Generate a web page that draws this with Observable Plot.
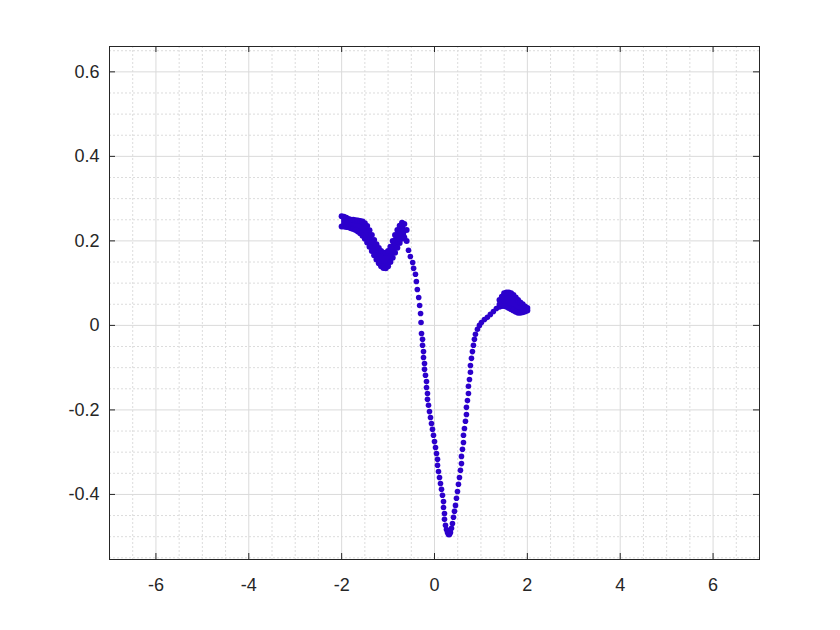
<!DOCTYPE html>
<html><head><meta charset="utf-8">
<script src="https://cdn.jsdelivr.net/npm/d3@7"></script>
<script src="https://cdn.jsdelivr.net/npm/@observablehq/plot@0.6"></script>
<style>body{margin:0;background:#fff;} svg{display:block;}</style>
</head><body><div id="chart"></div>
<script>
// ---- axis ticks ----
const xTicks = [-6, -4, -2, 0, 2, 4, 6];
const xTickLabels = ["-6", "-4", "-2", "0", "2", "4", "6"];
const yTicks = [-0.4, -0.2, 0, 0.2, 0.4, 0.6];
const yTickLabels = ["-0.4", "-0.2", "0", "0.2", "0.4", "0.6"];
const xMinor = [-6.5, -5.5, -5, -4.5, -3.5, -3, -2.5, -1.5, -1, -0.5, 0.5, 1, 1.5, 2.5, 3, 3.5, 4.5, 5, 5.5, 6.5];
const yMinor = [-0.55, -0.5, -0.45, -0.35, -0.3, -0.25, -0.15, -0.1, -0.05, 0.05, 0.1, 0.15, 0.25, 0.3, 0.35, 0.45, 0.5, 0.55, 0.65];

// ---- dense left cloud (upper / lower edge of the point band) ----
const leftBandX = [-2.00, -1.95, -1.90, -1.85, -1.80, -1.75, -1.70, -1.65, -1.60, -1.55, -1.50, -1.45, -1.40, -1.35, -1.30, -1.25, -1.20, -1.15, -1.10, -1.05, -1.00, -0.95, -0.90, -0.85, -0.80, -0.75, -0.70, -0.65, -0.60];
const leftBandTop = [0.258, 0.257, 0.255, 0.252, 0.250, 0.250, 0.249, 0.248, 0.247, 0.246, 0.242, 0.235, 0.225, 0.214, 0.202, 0.192, 0.183, 0.176, 0.172, 0.172, 0.176, 0.186, 0.200, 0.214, 0.226, 0.236, 0.243, 0.240, 0.226];
const leftBandBottom = [0.234, 0.234, 0.233, 0.232, 0.230, 0.228, 0.226, 0.222, 0.218, 0.212, 0.205, 0.196, 0.186, 0.176, 0.166, 0.156, 0.147, 0.140, 0.136, 0.135, 0.140, 0.150, 0.160, 0.172, 0.184, 0.195, 0.205, 0.208, 0.200];

// ---- single-file points: descent, trough, rise ----
const curveX = [-0.56, -0.52, -0.47, -0.45, -0.41, -0.39, -0.37, -0.34, -0.32, -0.30, -0.29,
  -0.280, -0.258, -0.258, -0.237, -0.237, -0.215, -0.215, -0.194, -0.172, -0.172, -0.151, -0.151, -0.129, -0.108, -0.086, -0.065, -0.043, -0.022, 0.000, 0.022, 0.043, 0.065, 0.065, 0.086, 0.108, 0.129, 0.151, 0.172, 0.194, 0.194, 0.215, 0.215, 0.237, 0.258, 0.280, 0.301, 0.323, 0.344,
  0.366, 0.387, 0.409, 0.430, 0.452, 0.473, 0.495, 0.516, 0.538, 0.559, 0.581, 0.581, 0.602, 0.624, 0.624, 0.645, 0.667, 0.688, 0.688, 0.710, 0.731, 0.731, 0.753, 0.774, 0.774, 0.796, 0.817, 0.839, 0.860, 0.882, 0.925, 0.968, 1.011, 1.075, 1.140, 1.204, 1.269, 1.333, 1.398];
const curveY = [0.178, 0.163, 0.149, 0.135, 0.121, 0.104, 0.085, 0.066, 0.047, 0.028, 0.007,
  -0.019, -0.033, -0.047, -0.062, -0.076, -0.090, -0.104, -0.118, -0.133, -0.147, -0.161, -0.175, -0.189, -0.204, -0.218, -0.232, -0.246, -0.260, -0.275, -0.289, -0.303, -0.317, -0.331, -0.346, -0.360, -0.374, -0.388, -0.402, -0.417, -0.431, -0.445, -0.459, -0.473, -0.483, -0.490, -0.495, -0.495, -0.490,
  -0.480, -0.469, -0.454, -0.440, -0.426, -0.409, -0.393, -0.376, -0.360, -0.343, -0.327, -0.310, -0.293, -0.277, -0.260, -0.244, -0.227, -0.211, -0.194, -0.178, -0.161, -0.144, -0.128, -0.111, -0.095, -0.078, -0.062, -0.047, -0.033, -0.021, -0.009, 0.000, 0.007, 0.014, 0.019, 0.026, 0.033, 0.040, 0.050];

// ---- dense right cloud ----
const rightBandX = [1.40, 1.45, 1.50, 1.55, 1.60, 1.65, 1.70, 1.75, 1.80, 1.85, 1.90, 1.95, 2.00];
const rightBandTop = [0.060, 0.068, 0.076, 0.078, 0.078, 0.076, 0.072, 0.066, 0.060, 0.054, 0.050, 0.045, 0.041];
const rightBandBottom = [0.044, 0.046, 0.046, 0.044, 0.041, 0.038, 0.035, 0.032, 0.030, 0.030, 0.031, 0.033, 0.035];

const leftBand = leftBandX.map((x, i) => ({x, top: leftBandTop[i], bottom: leftBandBottom[i]}));
const rightBand = rightBandX.map((x, i) => ({x, top: rightBandTop[i], bottom: rightBandBottom[i]}));
const curve = curveX.map((x, i) => ({x, y: curveY[i]}));
const edgePts = [...leftBand, ...rightBand].flatMap(d => [{x: d.x, y: d.top}, {x: d.x, y: d.bottom}]);

const COLOR = "#2c00cc";
const INK = "#262626";

const chart = Plot.plot({
  width: 840,
  height: 630,
  marginLeft: 109,
  marginRight: 81,
  marginTop: 46,
  marginBottom: 71,
  style: {fontFamily: "'Liberation Sans', Arial, sans-serif", fontSize: "18px", color: INK, background: "white"},
  x: {domain: [-7, 7], ticks: xTicks, tickFormat: d => xTickLabels[xTicks.indexOf(d)], tickSize: 0, tickPadding: 19, label: null},
  y: {domain: [-0.554, 0.660], ticks: yTicks, tickFormat: d => yTickLabels[yTicks.findIndex(t => Math.abs(t - d) < 1e-9)], tickSize: 0, tickPadding: 10, label: null},
  marks: [
    Plot.ruleX(xMinor, {stroke: "#dcdcdc", strokeDasharray: "2,2"}),
    Plot.ruleY(yMinor, {stroke: "#dcdcdc", strokeDasharray: "2,2"}),
    Plot.ruleX(xTicks, {stroke: "#dadada"}),
    Plot.ruleY(yTicks, {stroke: "#dadada"}),
    Plot.frame({stroke: INK}),
    Plot.ruleX(xTicks, {stroke: INK, insetTop: 507}),
    Plot.ruleX(xTicks, {stroke: INK, insetBottom: 507}),
    Plot.ruleY(yTicks, {stroke: INK, insetRight: 644}),
    Plot.ruleY(yTicks, {stroke: INK, insetLeft: 644}),
    Plot.areaY(leftBand, {x: "x", y1: "bottom", y2: "top", fill: COLOR}),
    Plot.areaY(rightBand, {x: "x", y1: "bottom", y2: "top", fill: COLOR}),
    Plot.dot(edgePts, {x: "x", y: "y", r: 3, fill: COLOR}),
    Plot.dot(curve, {x: "x", y: "y", r: 2.8, fill: COLOR})
  ]
});
document.getElementById("chart").appendChild(chart);
</script>
</body></html>
